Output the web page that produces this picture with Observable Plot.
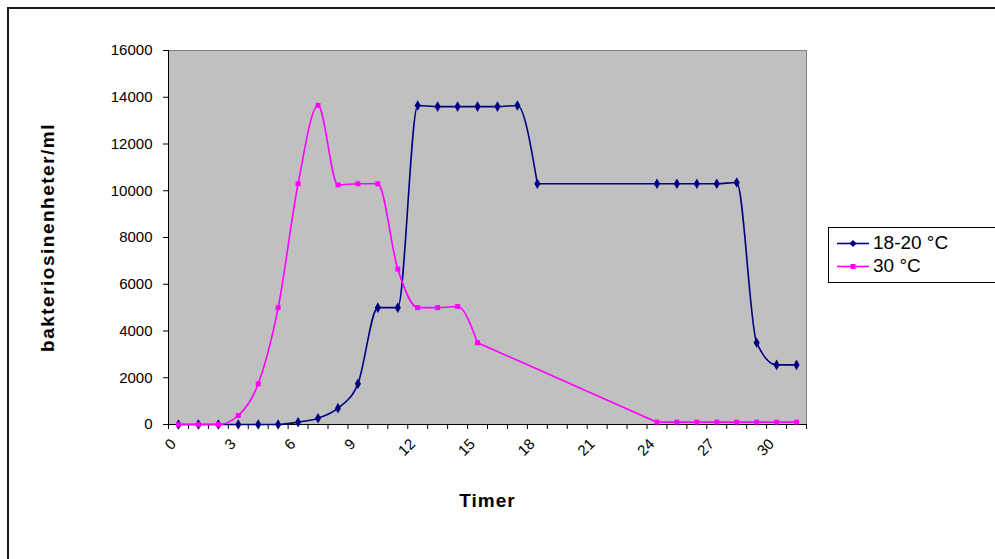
<!DOCTYPE html>
<html>
<head>
<meta charset="utf-8">
<script src="https://cdn.jsdelivr.net/npm/d3@7"></script>
<script src="https://cdn.jsdelivr.net/npm/@observablehq/plot@0.6"></script>
<style>
  html, body { margin: 0; padding: 0; background: #fff; }
  #wrap { position: relative; width: 995px; height: 559px; overflow: hidden; font-family: "Liberation Sans", Arial, sans-serif; }
  #border { position: absolute; left: 7px; top: 7px; width: 1000px; height: 600px; border-left: 2px solid #1a1a1a; border-top: 2px solid #1a1a1a; pointer-events: none; }
  #legend { position: absolute; left: 828px; top: 227px; width: 200px; height: 54px; border: 1px solid #000; background: #fff; }
  .lg { position: absolute; left: 6px; height: 22px; display: flex; align-items: center; font-size: 19px; color: #000; }
  .lg svg { margin-right: 4px; }
</style>
</head>
<body>
<div id="wrap"></div>
<script>
// ---- data ----
const hours = d3.range(0, 32);
const series18 = [0,0,0,0,0,0,100,270,700,1740,5000,5000,13650,13600,13600,13600,13600,13650,10300,null,null,null,null,null,10300,10300,10300,10300,10350,3500,2550,2550];
const series30 = [0,0,0,385,1740,5000,10300,13650,10250,10300,10300,6650,5000,5000,5050,3500,null,null,null,null,null,null,null,null,100,100,100,100,100,100,100,100];
const seriesNames = ["18-20 °C", "30 °C"];
const seriesColors = ["#000080", "#ff00ff"];
const yTicks = d3.range(0, 16001, 2000);
const xLabelTicks = d3.range(0, 31, 3);
const yTitle = "bakteriosinenheter/ml";
const xTitle = "Timer";

// split into runs of consecutive values (smoothed) and bridges over missing hours (straight)
function build(vals, name) {
  const pts = hours.map((h, i) => ({hour: h, value: vals[i], series: name})).filter(d => d.value != null);
  const runs = [], bridges = [];
  let seg = 0;
  pts.forEach((d, k) => {
    if (k > 0 && d.hour !== pts[k - 1].hour + 1) {
      bridges.push({...pts[k - 1], seg: k}, {...d, seg: k});
      seg++;
    }
    runs.push({...d, seg});
  });
  return {pts, runs, bridges};
}
const s18 = build(series18, seriesNames[0]);
const s30 = build(series30, seriesNames[1]);

const chart = Plot.plot({
  width: 995,
  height: 559,
  marginLeft: 168,
  marginRight: 189,
  marginTop: 50,
  marginBottom: 135,
  style: {fontFamily: "Liberation Sans, Arial, sans-serif", color: "#000", background: "transparent"},
  x: {type: "linear", domain: [-0.5, 31.5]},
  y: {domain: [0, 16000]},
  marks: [
    Plot.frame({fill: "#c0c0c0", stroke: "#808080"}),
    Plot.axisY({ticks: yTicks, tickSize: 5, tickPadding: 11, fontSize: 15, tickFormat: d3.format("d"), label: null}),
    Plot.axisX({ticks: d3.range(-0.5, 32, 1), tickSize: 5, tickFormat: () => "", label: null}),
    Plot.axisX({ticks: xLabelTicks, tickSize: 0, tickPadding: 13, tickRotate: -45, fontSize: 15, dx: -5, dy: 4, tickFormat: d3.format("d"), label: null}),
    Plot.ruleX([-0.5], {stroke: "#000"}),
    Plot.ruleY([0], {stroke: "#000"}),
    Plot.line(s18.runs, {x: "hour", y: "value", z: "seg", stroke: seriesColors[0], strokeWidth: 1.6, curve: "monotone-x"}),
    Plot.line(s18.bridges, {x: "hour", y: "value", z: "seg", stroke: seriesColors[0], strokeWidth: 1.6}),
    Plot.dot(s18.pts, {x: "hour", y: "value", fill: seriesColors[0], symbol: "diamond", r: 3.2}),
    Plot.line(s30.runs, {x: "hour", y: "value", z: "seg", stroke: seriesColors[1], strokeWidth: 1.6, curve: "monotone-x"}),
    Plot.line(s30.bridges, {x: "hour", y: "value", z: "seg", stroke: seriesColors[1], strokeWidth: 1.6}),
    Plot.dot(s30.pts, {x: "hour", y: "value", fill: seriesColors[1], symbol: "square", r: 2.8}),
    Plot.text([yTitle], {frameAnchor: "left", dx: -121, rotate: -90, textAnchor: "middle", lineAnchor: "middle", fontSize: 19, fontWeight: "bold", fill: "#000"}),
    Plot.text([xTitle], {frameAnchor: "bottom", dy: 76, textAnchor: "middle", lineAnchor: "middle", fontSize: 19, fontWeight: "bold", fill: "#000"})
  ]
});

// slightly wider letter spacing for the bold titles, as in the original
chart.querySelectorAll("text").forEach(t => {
  if (t.textContent === yTitle) t.style.letterSpacing = "1.5px";
  if (t.textContent === xTitle) t.style.letterSpacing = "1px";
});

const wrap = document.getElementById("wrap");
wrap.appendChild(chart);
const border = document.createElement("div");
border.id = "border";
wrap.appendChild(border);

// legend
const legend = document.createElement("div");
legend.id = "legend";
seriesNames.forEach((name, i) => {
  const row = document.createElement("div");
  row.className = "lg";
  row.style.top = (4 + i * 23) + "px";
  const sym = i === 0
    ? `<polygon points="18,5 21.5,8.5 18,12 14.5,8.5" fill="${seriesColors[i]}"/>`
    : `<rect x="15.5" y="6" width="5" height="5" fill="${seriesColors[i]}"/>`;
  row.innerHTML = `<svg width="34" height="17"><line x1="2" x2="34" y1="8.5" y2="8.5" stroke="${seriesColors[i]}" stroke-width="1.6"/>${sym}</svg><span>${name}</span>`;
  legend.appendChild(row);
});
wrap.appendChild(legend);
</script>
</body>
</html>
